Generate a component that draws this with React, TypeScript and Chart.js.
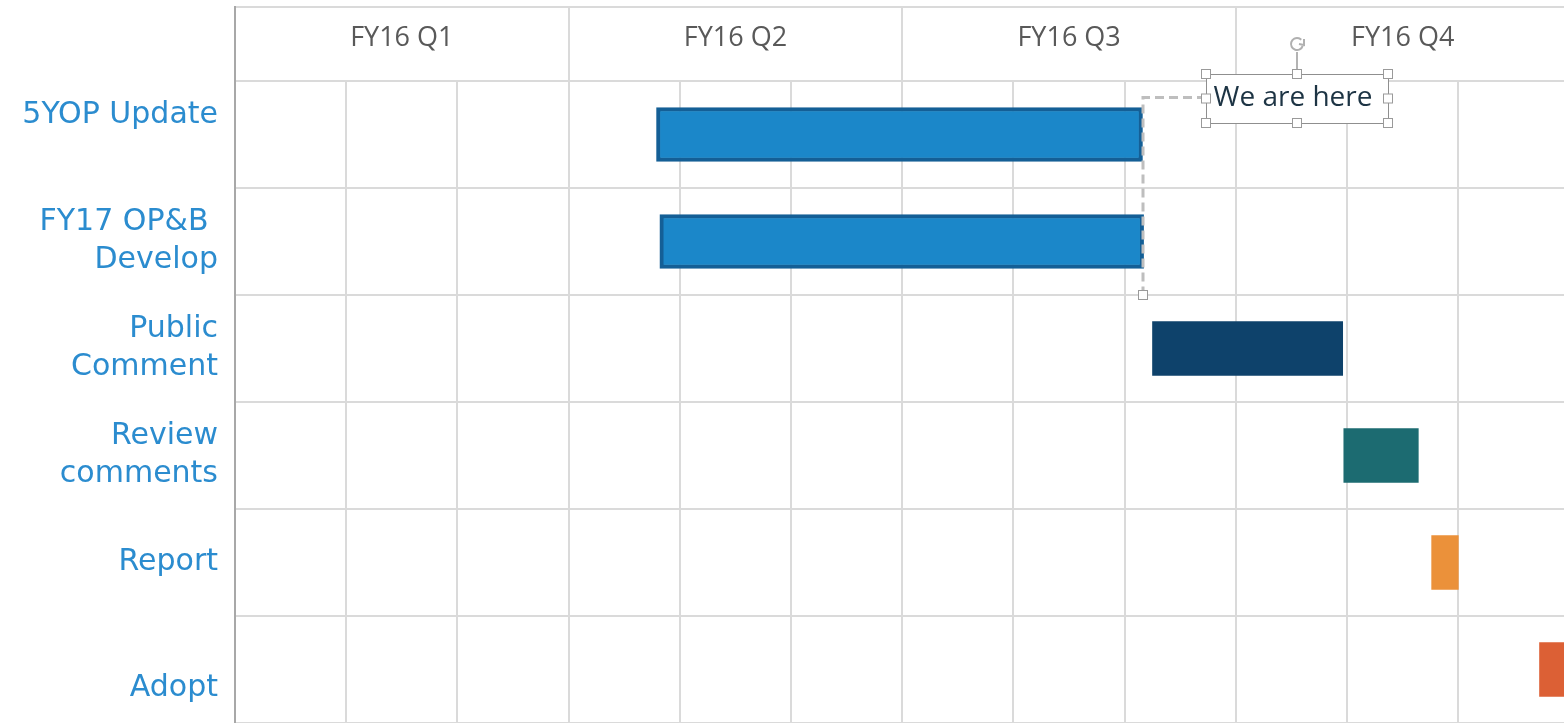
import React, { useEffect, useRef } from "react";
import { Chart, registerables } from "chart.js";

Chart.register(...registerables);

// ---- data ----
const taskLabels: string[][] = [
  ["5YOP Update", ""],
  ["FY17 OP&B ", "Develop"],
  ["Public", "Comment"],
  ["Review", "comments"],
  ["Report"],
  ["", "Adopt"],
];
// task start / end, in months from the start of FY16 Q1
const startMonths = [3.79, 3.82, 8.25, 9.97, 10.76, 11.73];
const endMonths = [8.16, 8.17, 9.96, 10.64, 11.0, 12.4];
const barColors = ["#1b87c9", "#1b87c9", "#0e426b", "#1c6b71", "#eb913a", "#dc6035"];
const barBorderColors = ["#145f96", "#145f96", "#0e426b", "#1c6b71", "#eb913a", "#dc6035"];
const barBorderWidths = [4, 4, 0, 0, 0, 0];

const quarterLabels = ["FY16 Q1", "FY16 Q2", "FY16 Q3", "FY16 Q4"];
const quarterCenters = [1.5, 4.5, 7.5, 10.5];
const quarterBounds = [0, 3, 6, 9];
const monthTicks = [0, 1, 2, 3, 4, 5, 6, 7, 8, 9, 10, 11];
const axisMin = 0;
const axisMax = 11.95;

const markerMonth = 8.16;
const markerLabel = "We are here";

const GRID = "#dadada";
const W = 1564;
const H = 723;

const headerPlugin = {
  id: "headerLines",
  afterDraw(chart: any) {
    const ctx = chart.ctx;
    const xs = chart.scales.x;
    const top = chart.scales.xTop;
    const area = chart.chartArea;
    ctx.save();
    ctx.strokeStyle = GRID;
    ctx.lineWidth = 2;
    ctx.beginPath();
    ctx.moveTo(area.left, top.top);
    ctx.lineTo(area.right, top.top);
    ctx.stroke();
    quarterBounds.forEach((v) => {
      const px = Math.round(xs.getPixelForValue(v));
      ctx.beginPath();
      ctx.moveTo(px, top.top);
      ctx.lineTo(px, top.bottom);
      ctx.stroke();
    });
    ctx.strokeStyle = "#a8a8a8";
    ctx.beginPath();
    ctx.moveTo(area.left, top.top - 1);
    ctx.lineTo(area.left, area.bottom);
    ctx.stroke();
    ctx.restore();
  },
};

function handle(ctx: CanvasRenderingContext2D, x: number, y: number) {
  ctx.save();
  ctx.fillStyle = "#ffffff";
  ctx.strokeStyle = "#9a9a9a";
  ctx.lineWidth = 1;
  ctx.fillRect(x - 4.5, y - 4.5, 9, 9);
  ctx.strokeRect(x - 4.5, y - 4.5, 9, 9);
  ctx.restore();
}

const markerPlugin = {
  id: "weAreHere",
  afterDraw(chart: any) {
    const ctx = chart.ctx;
    const xs = chart.scales.x;
    const ys = chart.scales.y;
    const area = chart.chartArea;
    const mx = Math.round(xs.getPixelForValue(markerMonth));
    const yEnd = ys.getPixelForValue(1.5);
    const left = mx + 63;
    const right = mx + 245;
    const top = area.top - 7;
    const bottom = area.top + 42;
    const midY = (top + bottom) / 2 - 1;
    const cx = (left + right) / 2;
    ctx.save();
    // connector
    ctx.setLineDash([9, 5]);
    ctx.strokeStyle = "#bebebe";
    ctx.lineWidth = 3;
    ctx.beginPath();
    ctx.moveTo(left, midY);
    ctx.lineTo(mx, midY);
    ctx.lineTo(mx, yEnd);
    ctx.stroke();
    ctx.setLineDash([]);
    // text box
    ctx.fillStyle = "#ffffff";
    ctx.fillRect(left, top, right - left, bottom - top);
    ctx.strokeStyle = "#8f8f8f";
    ctx.lineWidth = 1;
    ctx.strokeRect(left + 0.5, top + 0.5, right - left, bottom - top);
    ctx.fillStyle = "#1d3444";
    ctx.font = '28px "Open Sans"';
    ctx.textAlign = "center";
    ctx.textBaseline = "middle";
    ctx.fillText(markerLabel, cx - 4, midY + 1);
    // rotation handle
    ctx.strokeStyle = "#9a9a9a";
    ctx.lineWidth = 1.5;
    ctx.beginPath();
    ctx.moveTo(cx, top);
    ctx.lineTo(cx, top - 22);
    ctx.stroke();
    ctx.lineWidth = 2;
    ctx.strokeStyle = "#b0b0b0";
    ctx.beginPath();
    ctx.arc(cx, top - 30, 6, Math.PI * 0.1, Math.PI * 1.75);
    ctx.stroke();
    ctx.beginPath();
    ctx.moveTo(cx + 7, top - 35);
    ctx.lineTo(cx + 7, top - 29);
    ctx.lineTo(cx + 2, top - 30);
    ctx.stroke();
    ctx.restore();
    // selection handles
    [
      [left, top], [cx, top], [right, top],
      [left, midY + 1], [right, midY + 1],
      [left, bottom], [cx, bottom], [right, bottom],
      [mx, yEnd],
    ].forEach(([hx, hy]) => handle(ctx, hx, hy));
  },
};

export default function App() {
  const ref = useRef<HTMLCanvasElement | null>(null);
  useEffect(() => {
    if (!ref.current) return;
    const chart = new Chart(ref.current, {
      type: "bar",
      data: {
        labels: taskLabels,
        datasets: [
          {
            data: startMonths.map((s, i) => [s, endMonths[i]]),
            backgroundColor: barColors,
            borderColor: barBorderColors,
            borderWidth: barBorderWidths,
            borderSkipped: false,
            barThickness: 54,
          },
        ],
      },
      options: {
        indexAxis: "y",
        animation: false,
        responsive: false,
        maintainAspectRatio: false,
        devicePixelRatio: 1,
        layout: { padding: { top: 7, left: 0, right: 0, bottom: 0 } },
        plugins: { legend: { display: false }, tooltip: { enabled: false } },
        scales: {
          x: {
            type: "linear",
            position: "bottom",
            min: axisMin,
            max: axisMax,
            afterBuildTicks: (scale: any) => {
              scale.ticks = monthTicks.map((v) => ({ value: v }));
            },
            afterFit: (scale: any) => {
              scale.height = 0;
              scale.paddingLeft = 0;
              scale.paddingRight = 0;
            },
            ticks: { display: false },
            grid: { color: GRID, lineWidth: 2, drawTicks: false },
            border: { display: false },
          },
          xTop: {
            type: "linear",
            axis: "x",
            position: "top",
            min: axisMin,
            max: axisMax,
            afterBuildTicks: (scale: any) => {
              scale.ticks = quarterCenters.map((v) => ({ value: v }));
            },
            afterFit: (scale: any) => {
              scale.height = 74;
              scale.paddingLeft = 0;
              scale.paddingRight = 0;
            },
            ticks: {
              autoSkip: false,
              maxRotation: 0,
              padding: 26,
              color: "#595959",
              font: { family: '"Open Sans"', size: 27 },
              callback: (_v: any, i: number) => quarterLabels[i],
            },
            grid: { display: false, drawTicks: false },
            border: { display: false },
          },
          y: {
            type: "category",
            afterFit: (scale: any) => {
              scale.width = 235;
              scale.paddingTop = 0;
              scale.paddingBottom = 0;
            },
            ticks: {
              padding: 17,
              color: "#2b8ccf",
              font: { family: '"DejaVu Sans"', size: 30, lineHeight: 1.28 },
            },
            grid: { color: GRID, lineWidth: 2, drawTicks: false, offset: true },
            border: { display: false },
          },
        },
      },
      plugins: [headerPlugin, markerPlugin],
    } as any);
    return () => chart.destroy();
  }, []);
  return (
    <div style={{ position: "fixed", left: 0, top: 0, width: W, height: H, background: "#fff" }}>
      <canvas ref={ref} width={W} height={H} style={{ display: "block", width: W, height: H }} />
    </div>
  );
}
